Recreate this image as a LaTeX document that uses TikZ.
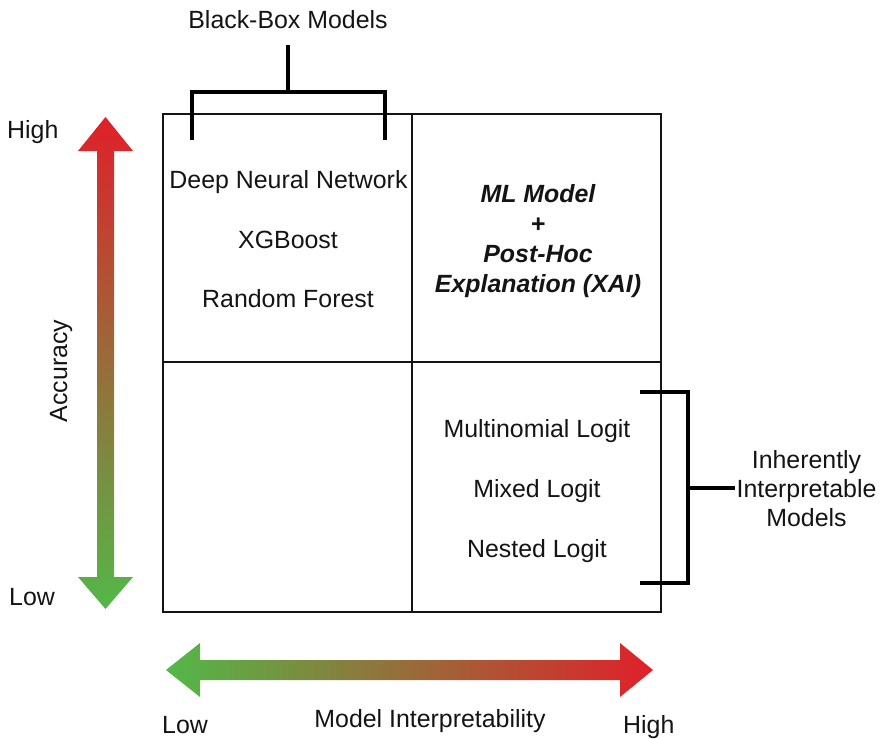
\documentclass[tikz,border=0pt]{standalone}
\usepackage{fontspec}
\setmainfont{Liberation Sans}
\definecolor{arred}{HTML}{E0202A}
\definecolor{armid}{HTML}{8A6A1F}
\definecolor{argreen}{HTML}{52B848}
\definecolor{ink}{HTML}{141414}
\begin{document}
\begin{tikzpicture}[x=1pt,y=-1pt,
  lbl/.style={font=\fontsize{24.9}{29}\selectfont, anchor=base, inner sep=0pt, text=ink},
  lblw/.style={lbl, anchor=base west},
  bolbl/.style={lbl, font=\fontsize{24.9}{29}\selectfont\bfseries\itshape},
  gridline/.style={line width=1.5pt, draw=ink},
  brk/.style={line width=3.5pt, draw=black},
]
\useasboundingbox (0,0) rectangle (884,739);

% vertical accuracy arrow
\shade[top color=arred, middle color=armid, bottom color=argreen]
  (105.5,117) -- (133,151) -- (114,151) -- (114,577) -- (133,577) -- (105.5,609)
  -- (78,577) -- (97,577) -- (97,151) -- (78,151) -- cycle;

% horizontal interpretability arrow
\shade[left color=argreen, middle color=armid, right color=arred]
  (166,670) -- (200,643) -- (200,660) -- (620,660) -- (620,643) -- (653,670)
  -- (620,697) -- (620,680) -- (200,680) -- (200,697) -- cycle;

% grid
\draw[gridline] (163,114) rectangle (661,612);
\draw[gridline] (412,114) -- (412,612);
\draw[gridline] (163,362) -- (661,362);

% black-box bracket
\coordinate (bbL) at (192,140);
\coordinate (bbLt) at (192,92);
\coordinate (bbRt) at (385,92);
\coordinate (bbR) at (385,140);
\coordinate (bbM) at (288,92);
\coordinate (bbS) at (288,45);
\draw[brk] (bbL) -- (bbLt) -- (bbRt) -- (bbR);
\draw[brk] (bbM) -- (bbS);

% inherently interpretable bracket
\coordinate (iiT) at (640,392);
\coordinate (iiTr) at (688,392);
\coordinate (iiBr) at (688,583);
\coordinate (iiB) at (640,583);
\coordinate (iiM) at (688,488);
\coordinate (iiS) at (735,488);
\draw[brk] (iiT) -- (iiTr) -- (iiBr) -- (iiB);
\draw[brk] (iiM) -- (iiS);

% labels
\node[lbl] (bb) at (288,28) {Black-Box Models};
\node[lblw] (yhigh) at (7,138) {High};
\node[lblw] (ylow) at (9,605) {Low};
\node[lbl, rotate=90] (acc) at (67,371) {Accuracy};

\node[lbl] (dnn) at (288.5,188) {Deep Neural Network};
\node[lbl] (xgb) at (288,248) {XGBoost};
\node[lbl] (rf) at (288,307) {Random Forest};

\node[bolbl] (ml) at (538,202) {ML Model};
\node[bolbl] (plus) at (538,232) {+};
\node[bolbl] (ph) at (538,262) {Post-Hoc};
\node[bolbl] (xai) at (538,292) {Explanation (XAI)};

\node[lbl] (mnl) at (537,437) {Multinomial Logit};
\node[lbl] (mxl) at (537,497) {Mixed Logit};
\node[lbl] (nl) at (537,557) {Nested Logit};

\node[lbl] (ii1) at (806.5,468) {Inherently};
\node[lbl] (ii2) at (806.5,497) {Interpretable};
\node[lbl] (ii3) at (806.5,526) {Models};

\node[lblw] (xlow) at (162,733) {Low};
\node[lbl] (mi) at (430,727) {Model Interpretability};
\node[lblw] (xhigh) at (623,733) {High};
\end{tikzpicture}
\end{document}
